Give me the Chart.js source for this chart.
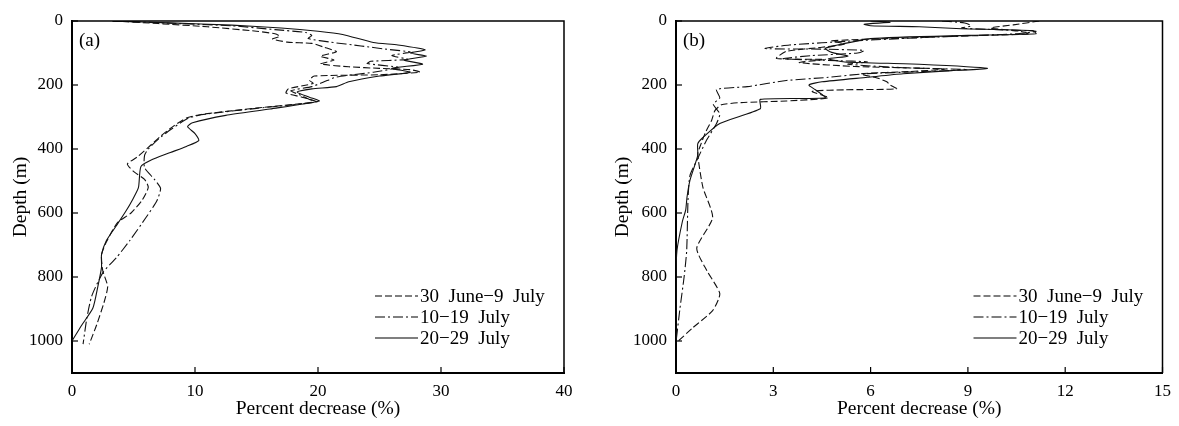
<!DOCTYPE html>
<html>
<head>
<meta charset="utf-8">
<title>Percent decrease vs depth</title>
<script src="https://cdn.jsdelivr.net/npm/chart.js@4.4.0/dist/chart.umd.min.js"></script>
<style>
    html, body { margin: 0; padding: 0; background: #fff; }
    body { width: 1179px; height: 426px; position: relative; overflow: hidden; }
    .panel { position: absolute; top: 0; height: 426px; }
    #panel-a { left: 0; width: 590px; }
    #panel-b { left: 604px; width: 575px; }
</style>
</head>
<body>
<div class="panel" id="panel-a"><canvas id="chart-a"></canvas></div>
<div class="panel" id="panel-b"><canvas id="chart-b"></canvas></div>
<script>
// 凡例ラベル
const periodLabels = ['30  June\u22129  July', '10\u221219  July', '20\u221229  July'];

// 目盛り
const depthTicks = [0, 200, 400, 600, 800, 1000];
const pctTicksA = [0, 10, 20, 30, 40];
const pctTicksB = [0, 3, 6, 9, 12, 15];

// (a) [percent decrease, depth]
const aJun30 = [[3.3,0],[7,8],[11,18],[15,32],[16.5,40],[16.9,48],[16.3,56],[17.5,66],[19.5,70],[20.5,82],[21.5,96],
    [20.2,110],[21.3,122],[20.2,134],[22.5,143],[25,148],[27.5,152],[28.3,160],[25,168],[19.7,172],[19.3,185],
    [19.6,195],[17.6,212],[17.4,225],[18.7,238],[19.8,252],[15,272],[10.5,292],[9.3,303],[8.2,330],[7.2,360],
    [6.2,395],[5.3,425],[4.5,447],[5.0,470],[5.9,495],[6.2,520],[5.7,560],[4.8,600],[3.7,630],[2.8,690],
    [2.4,730],[2.5,780],[2.9,830],[2.6,880],[2.0,950],[1.4,1010]];
const aJul10 = [[3.3,0],[8,7],[13,15],[16.5,27],[19,36],[19.5,45],[19.2,55],[21,66],[23.5,78],[25.5,88],[27.5,97],
    [26,108],[27.3,120],[24.3,126],[24.0,133],[26.5,145],[24.5,160],[21.5,175],[20.5,190],[19.5,205],[17.8,218],
    [18.6,232],[19.3,245],[19.9,253],[15,273],[10.5,293],[9.4,305],[8.0,340],[7.0,370],[6.2,400],[5.9,420],
    [5.9,458],[6.7,495],[7.2,523],[6.9,562],[6.0,615],[4.7,686],[3.6,740],[2.5,787],[1.6,860],[1.2,930],[0.9,1010]];
const aJul20 = [[3.3,0],[8,6],[13,13],[17,22],[20,32],[22,42],[24.5,67],[26.5,75],[28.7,90],[27.5,100],[28.8,110],
    [27,122],[28.5,135],[26,148],[27.5,160],[25,172],[22.5,190],[21.5,205],[19.5,212],[18.3,222],[19.3,238],
    [20.1,250],[16.1,275],[12.5,295],[9.8,318],[9.4,330],[10.0,352],[10.3,374],[9.3,392],[8,411],[6.4,435],
    [5.6,455],[5.4,521],[4.9,560],[4.4,593],[3.6,640],[2.8,686],[2.4,730],[2.4,770],[2.1,830],[1.7,897],
    [0.8,950],[0,1000]];

// (b)
const bJun30 = [[11.2,0],[10.4,12],[9.7,22],[10.6,32],[10.9,40],[8.5,48],[6.5,55],[4.8,62],[5.2,72],[4.5,82],
    [3.4,95],[3.1,117],[4.6,120],[3.8,130],[5.5,142],[8.3,150],[7.2,158],[5.7,165],[6.2,178],[6.5,190],[6.6,200],
    [6.8,212],[5.2,215],[4.2,220],[4.7,240],[3.4,250],[2.0,255],[1.4,262],[1.2,280],[1.1,310],[0.9,350],
    [0.75,390],[0.67,415],[0.83,520],[1.13,614],[0.64,710],[0.95,780],[1.35,852],[1.13,905],[0.5,960],[0.03,1004]];
const bJul10 = [[8.2,0],[8.9,6],[9.1,15],[8.8,22],[9.6,26],[11.1,32],[10.5,40],[8.0,50],[5.5,62],[3.5,75],[2.75,86],
    [4.5,88],[5.8,92],[5.6,100],[4.2,108],[3.3,118],[5.0,124],[5.9,128],[5.3,135],[7.0,146],[9.0,152],[7.6,158],
    [5.8,165],[4.7,176],[3.4,186],[2.2,205],[1.25,214],[1.35,240],[1.15,260],[1.35,290],[1.25,320],[0.94,373],
    [0.64,436],[0.43,483],[0.37,560],[0.33,717],[0.25,800],[0.12,900],[0,1004]];
const bJul20 = [[6.0,0],[6.6,4],[5.8,10],[6.0,15],[7.5,18],[8.8,24],[11.0,30],[11.1,40],[9.0,45],[6.0,55],[4.9,77],
    [4.6,86],[4.8,98],[5.3,110],[4.7,118],[5.2,128],[7.5,135],[9.6,148],[8.5,155],[7.0,165],[5.9,176],[4.5,190],
    [4.1,200],[4.3,215],[4.6,240],[2.6,245],[2.6,274],[1.35,320],[0.83,364],[0.67,384],[0.67,420],[0.43,498],
    [0.34,550],[0.3,590],[0.2,625],[0.03,717],[0,800],[0,1000]];

const FONT = "'Liberation Serif', 'Times New Roman', serif";
const dashes = [[7, 3], [10, 3, 2, 3], []];

function toPoints(pairs) {
    return pairs.map(p => ({ x: p[0], y: p[1] }));
}

// 枠・内向き目盛り・パネル記号・凡例
const framePlugin = {
    id: 'frame',
    afterDraw(chart, args, opts) {
        const { ctx, chartArea: a, scales } = chart;
        ctx.save();
        ctx.strokeStyle = '#000';
        ctx.setLineDash([]);

        ctx.lineWidth = 1.5;
        ctx.beginPath();
        ctx.moveTo(a.left, a.top);
        ctx.lineTo(a.right, a.top);
        ctx.lineTo(a.right, a.bottom);
        ctx.stroke();

        ctx.lineWidth = 1.2;
        scales.x.ticks.forEach(t => {
            const px = scales.x.getPixelForValue(t.value);
            ctx.beginPath();
            ctx.moveTo(px, a.bottom);
            ctx.lineTo(px, a.bottom - 6);
            ctx.stroke();
        });
        scales.y.ticks.forEach(t => {
            const py = scales.y.getPixelForValue(t.value);
            ctx.beginPath();
            ctx.moveTo(a.left, py);
            ctx.lineTo(a.left + 6, py);
            ctx.stroke();
        });

        ctx.fillStyle = '#000';
        ctx.font = '19px ' + FONT;
        ctx.textBaseline = 'middle';
        ctx.textAlign = 'left';
        ctx.fillText(opts.tag, a.left + 7, a.top + 20);

        chart.data.datasets.forEach((ds, i) => {
            const y = a.bottom - 77 + i * 21;
            ctx.lineWidth = 1.1;
            ctx.setLineDash(ds.borderDash);
            ctx.beginPath();
            ctx.moveTo(a.right - 189, y);
            ctx.lineTo(a.right - 146, y);
            ctx.stroke();
            ctx.setLineDash([]);
            ctx.fillText(ds.label, a.right - 144, y + 1);
        });
        ctx.restore();
    }
};

function createChart(id, series, pctMax, pctTicks, tag, rightPad, yTitlePad) {
    const ctx = document.getElementById(id);
    return new Chart(ctx, {
        type: 'scatter',
        data: {
            datasets: series.map((s, i) => ({
                label: periodLabels[i],
                data: toPoints(s),
                showLine: true,
                borderColor: '#111',
                borderWidth: 1.1,
                borderDash: dashes[i],
                pointRadius: 0,
                tension: 0.2,
                fill: false,
            }))
        },
        plugins: [framePlugin],
        options: {
            responsive: true,
            maintainAspectRatio: false,
            animation: false,
            layout: { padding: { top: 21, right: rightPad, left: 0, bottom: 0 } },
            plugins: {
                legend: { display: false },
                tooltip: { enabled: false },
                frame: { tag: tag }
            },
            scales: {
                x: {
                    type: 'linear',
                    min: 0,
                    max: pctMax,
                    afterBuildTicks: s => { s.ticks = pctTicks.map(v => ({ value: v })); },
                    afterFit: s => { s.height = 53; },
                    grid: { display: false, drawTicks: false },
                    border: { display: true, color: '#000', width: 2 },
                    ticks: {
                        color: '#000',
                        padding: 8,
                        maxRotation: 0,
                        font: { family: FONT, size: 17 },
                        callback: v => String(v)
                    },
                    title: {
                        display: true,
                        text: 'Percent decrease (%)',
                        color: '#000',
                        font: { family: FONT, size: 19.5 },
                        padding: { top: 0, bottom: 5 }
                    }
                },
                y: {
                    type: 'linear',
                    reverse: true,
                    min: 0,
                    max: 1100,
                    afterBuildTicks: s => { s.ticks = depthTicks.map(v => ({ value: v })); },
                    afterFit: s => { s.width = 72; },
                    grid: { display: false, drawTicks: false },
                    border: { display: true, color: '#000', width: 2 },
                    ticks: {
                        color: '#000',
                        padding: 9,
                        font: { family: FONT, size: 17 },
                        callback: v => String(v)
                    },
                    title: {
                        display: true,
                        text: 'Depth (m)',
                        color: '#000',
                        font: { family: FONT, size: 19.5 },
                        padding: { top: yTitlePad, bottom: 0 }
                    }
                }
            }
        }
    });
}

createChart('chart-a', [aJun30, aJul10, aJul20], 40, pctTicksA, '(a)', 26, 9);
createChart('chart-b', [bJun30, bJul10, bJul20], 15, pctTicksB, '(b)', 15, 7);
</script>
</body>
</html>
